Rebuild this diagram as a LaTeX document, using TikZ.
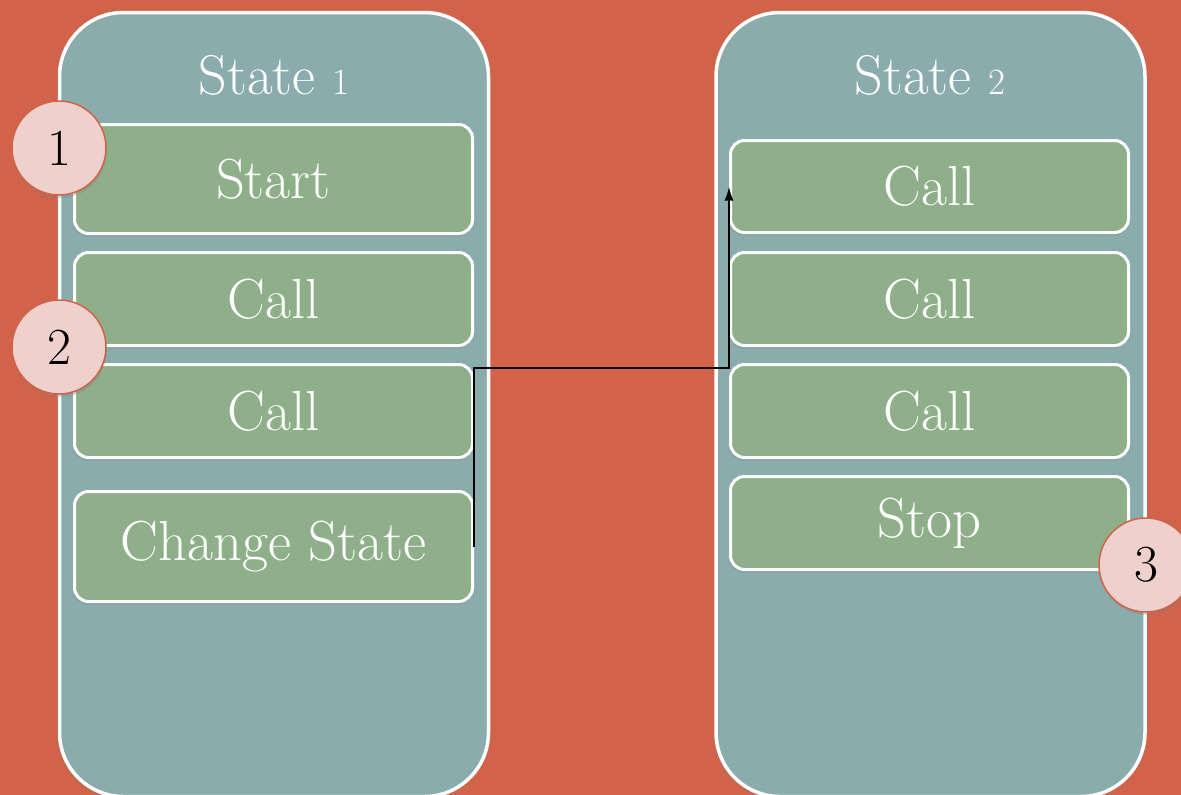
\documentclass[tikz,border=0pt]{standalone}
\usetikzlibrary{shadows,arrows.meta}
\definecolor{bgred}{HTML}{D0634A}
\definecolor{stteal}{HTML}{8AACAC}
\definecolor{stepgrn}{HTML}{8FAF8A}
\definecolor{pinkc}{HTML}{EED0CD}
\newcommand\osnum[1]{{\fontsize{37}{40}\selectfont #1}}
\tikzset{
  statebox/.style={draw=white, line width=3.5pt, fill=stteal, rounded corners=64pt,
    minimum width=429pt, minimum height=784pt, inner sep=0pt,
    drop shadow={opacity=0.25, shadow xshift=-2pt, shadow yshift=-2pt}},
  titletext/.style={text=white, font=\fontsize{56}{64}\selectfont, inner sep=0pt},
  stepbox/.style={draw=white, line width=3pt, fill=stepgrn, rounded corners=14pt,
    minimum width=398pt, inner sep=0pt, text=white, font=\fontsize{56.5}{64}\selectfont,
    drop shadow={opacity=0.3, shadow xshift=-1pt, shadow yshift=-3pt}},
  numcircle/.style={circle, draw=bgred, line width=1.5pt, fill=pinkc, minimum size=94pt,
    inner sep=0pt, text=black, font=\fontsize{52}{60}\selectfont,
    drop shadow={opacity=0.3, shadow xshift=1pt, shadow yshift=-3pt}},
  flow/.style={draw=black, line width=2pt, -{Latex[length=14pt,width=9pt]}}
}
\begin{document}
\begin{tikzpicture}[x=1pt,y=-1pt]
\useasboundingbox (0,0) rectangle (1181,795);
\clip (0,0) rectangle (1181,795);
\fill[bgred] (0,0) rectangle (1181,795);
% state containers
\node[statebox] (s1) at (274,404.5) {};
\node[statebox] (s2) at (930.5,404.5) {};
\node[titletext] (t1) at (274,75) {State \osnum{1}};
\node[titletext] (t2) at (930,75) {State \osnum{2}};
% steps state 1
\node[stepbox, minimum height=109pt] (a1) at (273.5,179) {Start};
\node[stepbox, minimum height=93pt] (a2) at (273.5,299) {Call};
\node[stepbox, minimum height=93pt] (a3) at (273.5,411) {Call};
\node[stepbox, minimum height=110pt] (a4) at (273.5,546.5) {Change State};
% steps state 2
\node[stepbox, minimum height=92pt] (b1) at (929.5,186.5) {Call};
\node[stepbox, minimum height=93pt] (b2) at (929.5,299) {Call};
\node[stepbox, minimum height=93pt] (b3) at (929.5,411) {Call};
\node[stepbox, minimum height=93pt] (b4) at (929.5,523) {Stop};
% connector
\coordinate (mid) at (600,368);
\draw[flow] (a4.east) -- (a4.east |- mid) -| (b1.west);
% numbered circles
\node[numcircle] (c1) at (59,148) {1};
\node[numcircle] (c2) at (59,347) {2};
\node[numcircle] (c3) at (1146,565) {3};
\end{tikzpicture}
\end{document}
